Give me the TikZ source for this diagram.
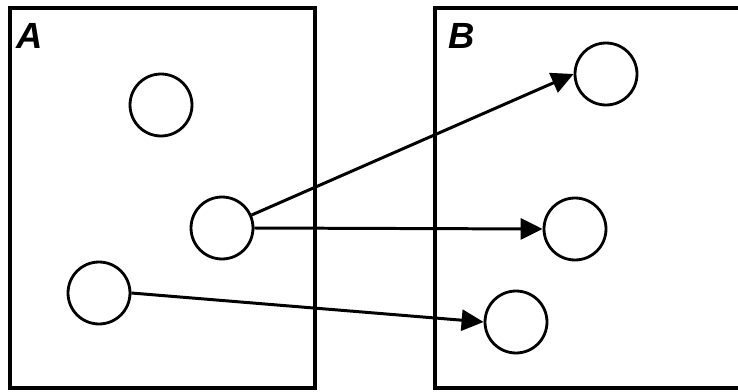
\documentclass[tikz,border=0pt]{standalone}
\usepackage{fontspec}
\setsansfont{Liberation Sans}
\usetikzlibrary{arrows.meta,positioning}

\begin{document}
\begin{tikzpicture}[
  x=0.02cm, y=-0.02cm,
  frame/.style={line width=2pt},
  elem/.style={
    draw,
    circle,
    line width=1.6pt,
    inner sep=0pt,
    minimum size=1.24cm
  },
  setname/.style={font=\sffamily\bfseries\itshape\huge,inner sep=0pt},
  arrow/.style={-{Triangle[length=4.4mm,width=4.2mm]},line width=1.7pt}
]
  \useasboundingbox (0,0) rectangle (738,392);
  % the two sets
  \draw[frame] (10,8) rectangle (315,388);
  \draw[frame] (738,8) -- (435,8) -- (435,388) -- (738,388);
  \node[setname] (labelA) at (30,36) {A};
  \node[setname] (labelB) at (462,36) {B};

  % elements of A
  \node[elem] (atop) at (161,105) {};
  \node[elem] (amid) at (222,228) {};
  \node[elem] (abot) at (99,293) {};

  % elements of B
  \node[elem] (btop) at (606,74) {};
  \node[elem] (bmid) at (575,229) {};
  \node[elem] (bbot) at (516,322) {};

  \draw[arrow] (amid) -- (btop.west);
  \draw[arrow] (amid.east) -- (bmid.west);
  \draw[arrow] (abot.east) -- (bbot.west);
\end{tikzpicture}
\end{document}
